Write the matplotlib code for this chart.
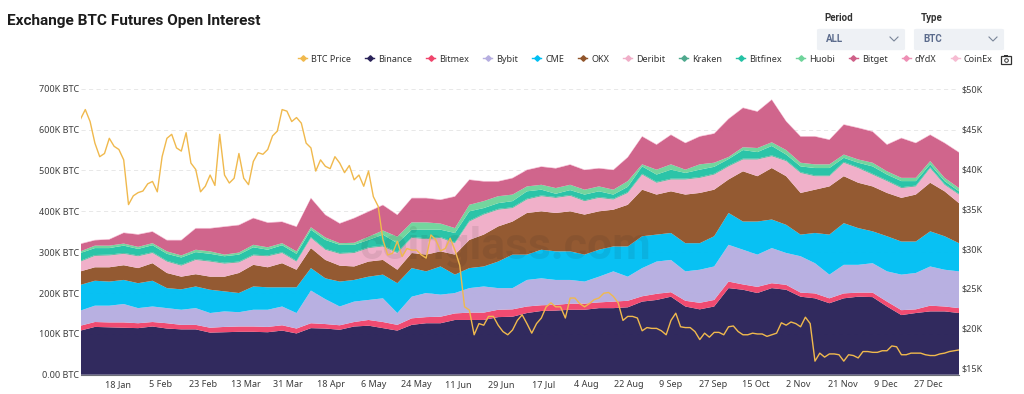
import numpy as np, pandas as pd
import matplotlib
matplotlib.use('Agg')
import matplotlib.pyplot as plt
from matplotlib.lines import Line2D
from matplotlib.patches import FancyBboxPatch, Rectangle

plt.rcParams['font.family'] = ['Noto Sans', 'DejaVu Sans']

START, END = '2022-01-02', '2023-01-09'
# Upper edge of each exchange's band in the stack, thousand BTC
binance_top = [108,117,116,115,114,118,113,111,111,103,104,105,105,104,108,101,114,113,110,118,120,114,108,122,126,126,134,134,134,141,142,151,156,157,159,159,163,163,165,179,183,191,167,160,167,212,208,200,212,208,191,187,175,187,191,190,167,146,151,155,155,151]
bitmex_oi = [12,12,12,13,12,11,13,11,11,12,13,13,13,13,13,12,12,11,11,11,14,15,14,16,15,16,16,18,18,18,18,16,14,14,15,15,14,16,16,13,15,11,14,16,16,16,13,15,12,12,10,12,12,12,10,11,12,12,9,14,12,12]
bybit_top = [157,169,169,173,163,167,163,159,163,151,155,153,159,159,167,151,206,185,167,179,183,187,151,191,200,196,200,212,216,212,212,232,236,232,232,228,240,253,240,261,277,281,253,257,265,318,306,294,310,298,290,273,245,269,269,273,253,245,249,265,257,253]
cme_top = [220,230,228,232,224,230,212,209,216,208,204,200,216,214,214,214,261,236,228,232,240,245,224,261,253,265,245,261,265,277,294,294,306,302,302,294,306,314,314,339,343,347,322,322,339,396,375,375,380,367,343,347,343,371,359,351,339,326,326,351,339,322]
okx_top = [253,263,263,268,261,273,249,240,246,240,240,249,269,263,273,257,310,281,267,265,277,281,257,298,294,302,294,330,343,363,375,396,400,396,400,392,400,404,416,453,441,449,441,445,453,478,498,486,506,486,445,453,461,486,470,461,445,433,441,470,449,420]
deribit_top = [277,291,292,296,290,298,277,267,281,277,272,275,292,290,298,277,335,306,296,298,310,314,298,335,332,335,322,375,392,404,408,429,437,433,438,425,433,429,445,490,470,478,478,482,490,510,527,527,535,523,494,486,486,519,506,490,474,457,461,506,465,441]
kraken_oi = [2,2,2,2,2,2,2,2,2,2,2,2,2,2,2,2,2,2,2,2,2,2,2,2,2,2,2,2,2,2,2,2,2,2,2,2,2,2,2,2,2,2,2,2,2,2,2,2,2,2,2,2,2,2,2,2,2,2,2,2,2,2]
bitfinex_top = [298,310,310,316,308,317,296,287,300,296,290,294,312,306,317,296,355,330,318,318,330,343,322,355,355,355,347,400,408,420,425,449,453,443,452,441,449,441,460,510,490,502,494,502,509,528,550,545,560,539,510,506,506,531,519,510,490,474,474,515,474,449]
huobi_top = [302,316,316,321,313,322,302,292,306,302,294,299,318,312,322,302,361,336,322,323,338,353,338,373,373,370,359,416,425,437,441,461,465,457,465,453,461,453,474,515,502,515,502,515,519,533,557,555,569,550,519,515,515,539,527,519,498,482,482,523,482,457]
bitget_top = [320,329,331,347,343,350,329,329,358,358,362,366,383,372,374,362,432,391,370,383,399,415,391,432,432,428,436,477,473,473,481,501,509,505,514,501,505,501,532,583,563,587,567,583,590,626,653,644,673,620,583,583,575,612,604,595,563,579,567,587,567,544]
dydx_oi = [0.7,0.7,0.7,0.7,0.7,0.7,0.7,0.7,0.7,0.7,0.7,0.7,0.7,0.7,0.7,0.7,0.7,0.7,0.7,0.7,0.7,0.7,0.7,0.7,0.7,0.7,0.7,0.7,0.7,0.7,0.7,0.7,0.7,0.7,0.7,0.7,0.7,0.7,0.7,0.7,0.7,0.7,0.7,0.7,0.7,0.7,0.7,0.7,0.7,0.7,0.7,0.7,0.7,0.7,0.7,0.7,0.7,0.7,0.7,0.7,0.7,0.7]
coinex_oi = [0.6,0.6,0.6,0.6,0.6,0.6,0.6,0.6,0.6,0.6,0.6,0.6,0.6,0.6,0.6,0.6,0.6,0.6,0.6,0.6,0.6,0.6,0.6,0.6,0.6,0.6,0.6,0.6,0.6,0.6,0.6,0.6,0.6,0.6,0.6,0.6,0.6,0.6,0.6,0.6,0.6,0.6,0.6,0.6,0.6,0.6,0.6,0.6,0.6,0.6,0.6,0.6,0.6,0.6,0.6,0.6,0.6,0.6,0.6,0.6,0.6,0.6]
btc_price = [46.2,47.4,45.9,43.2,41.5,41.9,43.8,42.8,42.4,41.1,35.5,36.6,37.0,37.2,38.1,38.4,37.1,41.5,43.8,44.3,42.6,42.2,44.5,40.7,39.9,37.1,37.8,39.2,37.9,44.3,39.2,38.2,38.8,41.9,38.8,38.0,40.9,42.0,41.8,42.4,44.1,44.7,47.4,47.2,45.9,46.4,45.7,43.2,42.6,39.7,41.1,40.3,40.0,41.5,40.7,
39.5,40.4,38.6,39.2,37.8,39.7,36.5,35.3,31.1,29.2,29.4,30.9,29.0,30.0,29.8,29.8,29.2,28.8,31.7,31.1,29.7,30.0,31.3,29.8,27.9,22.7,22.3,19.2,20.6,20.4,21.5,21.5,20.4,19.6,19.2,19.8,21.0,21.7,20.6,19.4,20.6,21.3,22.7,23.2,22.7,22.7,21.3,23.8,23.8,23.1,22.7,23.1,23.6,23.8,24.4,24.5,24.0,23.2,21.0,21.5,21.5,21.3,19.7,20.1,20.0,20.0,19.7,19.2,21.0,21.9,
20.2,20.1,20.1,19.6,18.6,19.4,18.9,19.5,19.5,19.2,20.2,20.3,19.6,19.2,19.2,19.4,19.3,19.3,19.0,19.2,19.4,20.7,20.4,20.8,20.6,20.2,21.4,20.6,15.9,16.9,16.4,16.8,16.8,16.7,15.9,16.7,16.6,16.3,17.1,17.1,17.0,17.0,17.2,17.2,17.8,17.7,16.7,16.7,16.9,16.9,16.9,16.7,16.6,16.6,16.8,16.9,17.1,17.2,17.3]
date_ticks = ['2022-01-18','2022-02-05','2022-02-23','2022-03-13','2022-03-31','2022-04-18','2022-05-06','2022-05-24','2022-06-11','2022-06-29','2022-07-17','2022-08-04','2022-08-22','2022-09-09','2022-09-27','2022-10-15','2022-11-02','2022-11-21','2022-12-09','2022-12-27']
oi_ticks = [0,100,200,300,400,500,600,700]
oi_labels = ['0.00 BTC','100K BTC','200K BTC','300K BTC','400K BTC','500K BTC','600K BTC','700K BTC']
price_ticks = [15,20,25,30,35,40,45,50]
series_names = ['Binance','Bitmex','Bybit','CME','OKX','Deribit','Kraken','Bitfinex','Huobi','Bitget','dYdX','CoinEx']
series_colors = ['#2a2359','#f0456c','#b6aee0','#00bff3','#91552b','#f0aec8','#4fa98e','#24c2a5','#6fd49b','#cf6088','#ee8fb5','#f6bcd2']
price_color = '#f0b94d'

b = np.array
binance = b(binance_top, float)
bitmex = b(bitmex_oi, float)
bybit = b(bybit_top, float) - binance - bitmex
cme = b(cme_top, float) - b(bybit_top, float)
okx = b(okx_top, float) - b(cme_top, float)
deribit = b(deribit_top, float) - b(okx_top, float)
kraken = b(kraken_oi, float)
bitfinex = b(bitfinex_top, float) - b(deribit_top, float) - kraken
huobi = b(huobi_top, float) - b(bitfinex_top, float)
bitget = b(bitget_top, float) - b(huobi_top, float)
series = [binance, bitmex, bybit, cme, okx, deribit, kraken, bitfinex, huobi, bitget, b(dydx_oi), b(coinex_oi)]

W, H = 1024, 394
fig = plt.figure(figsize=(W/100, H/100), dpi=100, facecolor='white')
def fx(x): return x/W
def fy(y): return 1-y/H
L, R, T, B = 80.5, 959, 88.8, 374.7
ax = fig.add_axes([fx(L), fy(B), fx(R-L), (B-T)/H])
dates = pd.date_range(START, END, periods=len(binance))
ax.stackplot(dates, *series, colors=series_colors, linewidth=0, alpha=0.97, zorder=2)
ax.set_ylim(0, 700)
ax.set_xlim(dates[0], dates[-1])
ax.set_yticks(oi_ticks, oi_labels)
ax.set_xticks(pd.to_datetime(date_ticks), [pd.Timestamp(d).strftime('%-d %b') for d in date_ticks])
ax.tick_params(axis='both', length=0, labelsize=6.5, colors='#3d3d3d')
ax.tick_params(axis='y', pad=1)
ax.tick_params(axis='x', pad=4)
ax.grid(axis='y', color='#e4e4e4', lw=0.6, ls=(0, (5, 4)), zorder=1)
ax.set_axisbelow(True)
for s in ['top', 'left', 'right']:
    ax.spines[s].set_visible(False)
ax.spines['bottom'].set_color('#6e7079')
ax.spines['bottom'].set_linewidth(0.8)

ax2 = ax.twinx()
ax2.plot(pd.date_range(START, END, periods=len(btc_price)), btc_price, color=price_color, lw=1.0, zorder=5)
ax2.set_ylim(14.2, 50)
ax2.set_yticks(price_ticks, [f'${v}K' for v in price_ticks])
ax2.tick_params(axis='y', length=0, labelsize=6.5, colors='#3d3d3d', pad=2)
for s in ax2.spines.values():
    s.set_visible(False)

ax.text(0.484, 0.445, 'coinglass.com', transform=ax.transAxes, ha='center', va='center',
        fontsize=32, color='#222222', alpha=0.09, family='Roboto', fontweight='bold', zorder=4)

fig.text(fx(7), fy(21), 'Exchange BTC Futures Open Interest', fontsize=11.1, family='Roboto', fontweight='bold', color='#1c1c1c', va='center')

for lab, val, x0, x1 in [('Period', 'ALL', 817, 905), ('Type', 'BTC', 914, 1004)]:
    fig.text(fx(x0+7), fy(18), lab, fontsize=7, family='Roboto', fontweight='bold', color='#333333', va='center')
    fig.add_artist(FancyBboxPatch((fx(x0+3), fy(49)), fx(x1-x0-6), 19/H, boxstyle='round,pad=0.003',
                                  transform=fig.transFigure, fc='#eef1f5', ec='none'))
    fig.text(fx(x0+9), fy(39), val, fontsize=7, family='Roboto', fontweight='bold', color='#5b6b8c', va='center')
    fig.add_artist(Line2D([fx(x1-15), fx(x1-11), fx(x1-7)], [fy(37), fy(41), fy(37)], color='#7a8699', lw=0.8, transform=fig.transFigure))

handles = [Line2D([], [], color=price_color, marker='D', ms=2.8, lw=1, label='BTC Price')]
handles += [Line2D([], [], color=c, marker='D', ms=2.8, lw=1, label=n) for n, c in zip(series_names, series_colors)]
leg = fig.legend(handles=handles, ncols=13, loc='center right', bbox_to_anchor=(fx(997), fy(59)), frameon=False, fontsize=6.5,
                 handlelength=1.0, handletextpad=0.45, columnspacing=1.55, borderpad=0, labelcolor='#333333')

fig.add_artist(Rectangle((fx(1001), fy(64)), 10/W, 8/H, transform=fig.transFigure, fc='none', ec='#333333', lw=0.9))
fig.add_artist(Rectangle((fx(1004), fy(56)), 4/W, 1.5/H, transform=fig.transFigure, fc='#333333', ec='none'))
fig.add_artist(Line2D([fx(1006)], [fy(60)], marker='o', ms=2.6, mfc='none', mec='#333333', mew=0.7, transform=fig.transFigure))

fig.savefig('out.png', dpi=100)
